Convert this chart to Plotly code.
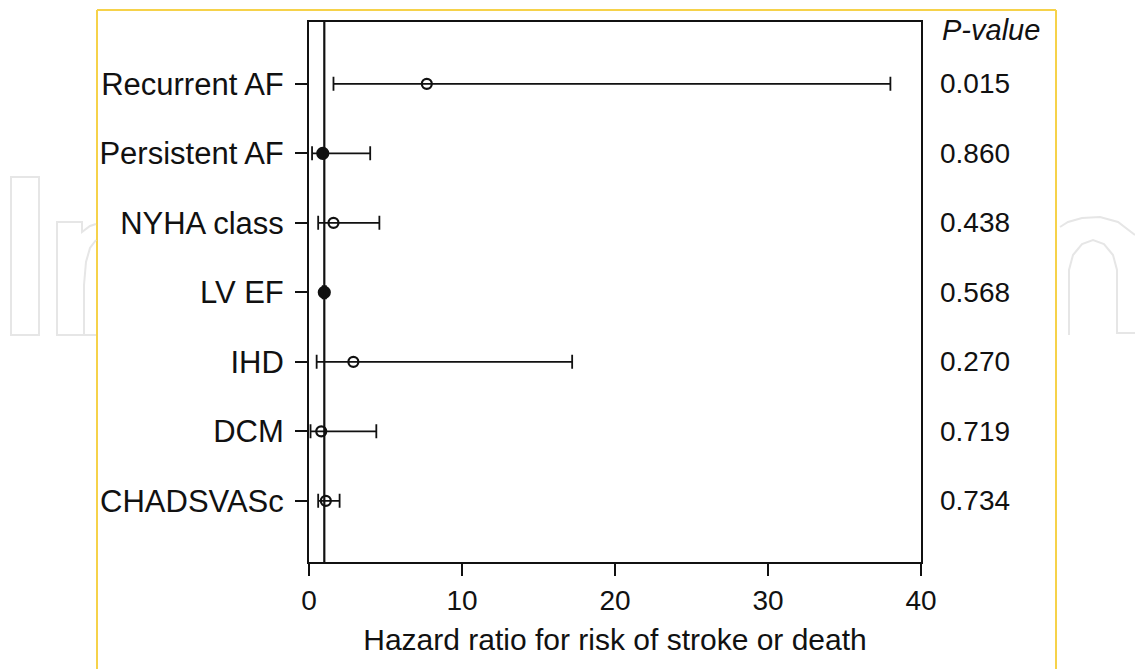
import plotly.graph_objects as go

# ---- data ----
categories = ["Recurrent AF", "Persistent AF", "NYHA class", "LV EF", "IHD", "DCM", "CHADSVASc"]
hazard_ratio = [7.7, 0.9, 1.6, 1.0, 2.9, 0.8, 1.1]
ci_low = [1.6, 0.2, 0.6, 0.9, 0.5, 0.1, 0.6]
ci_high = [38.0, 4.0, 4.6, 1.1, 17.2, 4.4, 2.0]
p_values = ["0.015", "0.860", "0.438", "0.568", "0.270", "0.719", "0.734"]
filled = [False, True, False, True, False, False, False]
x_ticks = [0, 10, 20, 30, 40]

W, H = 1135, 669
L, R, T, B = 309, 921, 22, 562
FONT = "Liberation Sans, Arial, sans-serif"

n = len(categories)
ypos = [n - i for i in range(n)]


def px(x, y):
    return (x - L) / (R - L), 1 - (y - T) / (B - T)


fig = go.Figure()

for is_filled, size, sym in [(False, 10, "circle-open"), (True, 11, "circle")]:
    idx = [i for i in range(n) if filled[i] == is_filled]
    fig.add_trace(go.Scatter(
        x=[hazard_ratio[i] for i in idx],
        y=[ypos[i] for i in idx],
        mode="markers",
        marker=dict(symbol=sym, size=size, color="#111",
                    line=dict(color="#111", width=2.2)),
        error_x=dict(type="data", symmetric=False,
                     array=[ci_high[i] - hazard_ratio[i] for i in idx],
                     arrayminus=[hazard_ratio[i] - ci_low[i] for i in idx],
                     color="#111", thickness=1.8, width=7),
        showlegend=False, hoverinfo="skip",
    ))

shapes = []
shapes.append(dict(type="line", xref="x", yref="paper", x0=1, x1=1, y0=0, y1=1,
                   line=dict(color="#111", width=2.2)))

yc = "#f6d24a"
for (x0, y0, x1, y1) in [(97, 10, 97, 669), (97, 10, 1056, 10), (1056, 10, 1056, 669)]:
    a = px(x0, y0); b = px(x1, y1)
    shapes.append(dict(type="line", xref="paper", yref="paper", x0=a[0], y0=a[1], x1=b[0], y1=b[1],
                       line=dict(color=yc, width=2), layer="below"))


def path(points, closed=False):
    s = ""
    for k, (x, y) in enumerate(points):
        p = px(x, y)
        s += ("M" if k == 0 else "L") + f"{p[0]:.5f},{p[1]:.5f} "
    if closed:
        s += "Z"
    return s


wm = "#e6e6e6"
wm_paths = [
    path([(11, 177), (39, 177), (39, 335), (11, 335)], closed=True),
    path([(96, 335), (57, 335), (57, 222), (82, 222), (82, 232), (90, 226), (96, 224)]),
    path([(96, 240), (90, 248), (86, 262), (84, 285), (84, 335)]),
    path([(1060, 227), (1068, 222), (1082, 218), (1100, 217), (1118, 222), (1135, 235)]),
    path([(1069, 335), (1069, 270), (1073, 255), (1082, 244), (1093, 240), (1104, 244),
          (1113, 255), (1117, 270), (1117, 333), (1135, 333)]),
]
for pth in wm_paths:
    shapes.append(dict(type="path", xref="paper", yref="paper", path=pth,
                       line=dict(color=wm, width=2), layer="below"))

annotations = []
hx, hy = px(940, 30)
annotations.append(dict(text="<i>P-value</i>", x=hx, y=hy, xref="paper", yref="paper",
                        xanchor="left", yanchor="middle", showarrow=False,
                        font=dict(family=FONT, size=29, color="#111")))
for yv, pv in zip(ypos, p_values):
    annotations.append(dict(text=pv, x=px(938, 0)[0], y=yv, xref="paper", yref="y",
                            xanchor="left", yanchor="middle", showarrow=False,
                            font=dict(family=FONT, size=28, color="#111")))

fig.update_layout(
    width=W, height=H,
    margin=dict(l=L, r=W - R, t=T, b=H - B),
    paper_bgcolor="white", plot_bgcolor="rgba(0,0,0,0)",
    shapes=shapes, annotations=annotations,
    font=dict(family=FONT, color="#111"),
)
fig.update_xaxes(
    range=[0, 40], tickvals=x_ticks, ticks="outside", ticklen=12, tickwidth=2, tickcolor="#111",
    showline=True, linewidth=2, linecolor="#111", mirror=True, showgrid=False, zeroline=False,
    tickfont=dict(size=28, family=FONT, color="#111"),
    title=dict(text="Hazard ratio for risk of stroke or death", font=dict(size=30, family=FONT, color="#111"),
               standoff=14),
)
fig.update_yaxes(
    range=[0.12, 7.89], tickvals=ypos, ticktext=categories, ticks="outside", ticklen=12, tickwidth=2,
    tickcolor="#111", showline=True, linewidth=2, linecolor="#111", mirror=True, showgrid=False,
    zeroline=False, tickfont=dict(size=31, family=FONT, color="#111"), ticklabelstandoff=5,
)

fig.write_html("out.html", config={"displayModeBar": False},
               post_script="document.body.style.margin='0';")
